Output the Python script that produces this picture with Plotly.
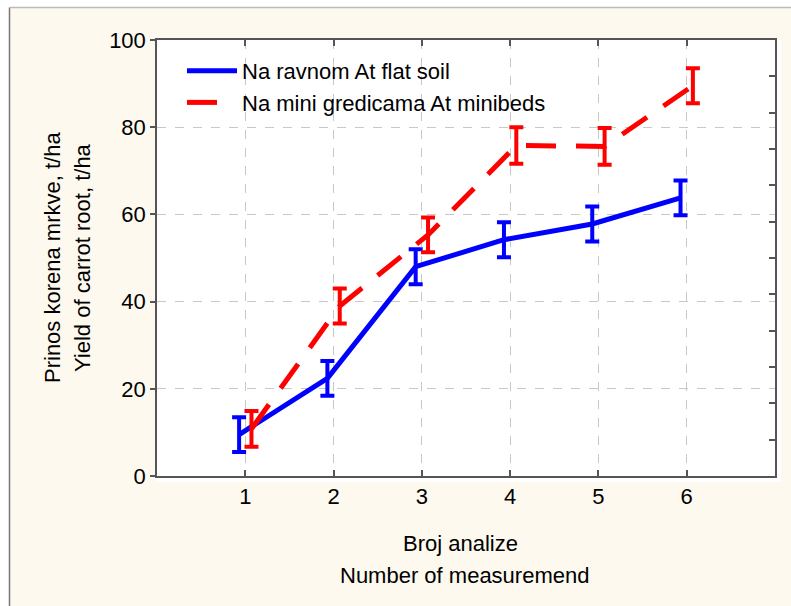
import plotly.graph_objects as go

measurements = [1, 2, 3, 4, 5, 6]
flat_soil = [9.5, 22.4, 48.0, 54.2, 57.8, 63.8]
flat_soil_err = [4.0, 4.0, 4.0, 4.0, 4.0, 4.0]
minibeds = [10.8, 39.0, 55.3, 75.8, 75.6, 89.5]
minibeds_err = [4.1, 4.0, 4.0, 4.2, 4.2, 4.0]
y_ticks = [0, 20, 40, 60, 80, 100]
x_ticks = [1, 2, 3, 4, 5, 6]
name_flat = "Na ravnom At flat soil"
name_mini = "Na mini gredicama At minibeds"

OFF = 0.07
FONT = "Liberation Sans, Arial, sans-serif"
FS = 22
CREAM = "#FDF9EE"

W, H = 791, 606
L, R, T, B = 157, 16, 40, 130
pw, ph = W - L - R, H - T - B


def px_x(p):
    return (p - L) / pw


def px_y(p):
    return (H - B - p) / ph


fig = go.Figure()
fig.add_trace(go.Scatter(
    x=[m - OFF for m in measurements], y=flat_soil, name=name_flat,
    mode="lines", line=dict(color="#0000FF", width=5),
    error_y=dict(type="data", array=flat_soil_err, color="#0000FF", thickness=4, width=7),
    legendgroup="a",
))
fig.add_trace(go.Scatter(
    x=[m + OFF for m in measurements], y=minibeds, name=name_mini,
    mode="lines", line=dict(color="#FF0000", width=5, dash="30px,20px"),
    error_y=dict(type="data", array=minibeds_err, color="#FF0000", thickness=4, width=7),
    legendgroup="b",
))
# invisible trace for right-hand tick axis
fig.add_trace(go.Scatter(x=[0], y=[0], yaxis="y2", mode="markers",
                         marker=dict(opacity=0), showlegend=False, hoverinfo="skip"))

axis_line = "#555555"
fig.update_layout(
    width=W, height=H,
    margin=dict(l=L, r=R, t=T, b=B),
    paper_bgcolor=CREAM, plot_bgcolor="white",
    font=dict(family=FONT, size=FS, color="black"),
    showlegend=True,
    legend=dict(x=px_x(182), y=px_y(50), xanchor="left", yanchor="top",
                bgcolor="rgba(0,0,0,0)", font=dict(size=FS, family=FONT),
                itemwidth=50, tracegroupgap=0, traceorder="grouped"),
    xaxis=dict(range=[0, 7], tickvals=x_ticks, ticks="inside", ticklen=6,
               tickcolor=axis_line, tickwidth=1.5,
               showline=True, linecolor=axis_line, linewidth=1.5, mirror="ticks",
               showgrid=True, gridcolor="#C8C8C8", griddash="dash", gridwidth=1,
               zeroline=False, tickfont=dict(size=FS)),
    yaxis=dict(range=[0, 100], tickvals=y_ticks, ticks="outside", ticklen=5,
               tickcolor=axis_line, tickwidth=1.5,
               showline=True, linecolor=axis_line, linewidth=1.5, mirror=True,
               showgrid=True, gridcolor="#C8C8C8", griddash="dash", gridwidth=1,
               zeroline=False, tickfont=dict(size=FS)),
    yaxis2=dict(range=[0, 12], dtick=1, overlaying="y", side="right", anchor="x",
                ticks="inside", ticklen=6, tickcolor=axis_line, tickwidth=1.5,
                showticklabels=False, showgrid=False, showline=False, zeroline=False),
    shapes=[
        dict(type="rect", xref="paper", yref="paper", layer="below",
             x0=px_x(L), x1=px_x(781), y0=px_y(482), y1=px_y(T),
             fillcolor="white", line=dict(width=0)),
        dict(type="rect", xref="paper", yref="paper", layer="above",
             x0=px_x(-5), x1=px_x(9), y0=px_y(H + 5), y1=px_y(-5),
             fillcolor="white", line=dict(width=0)),
        dict(type="rect", xref="paper", yref="paper", layer="above",
             x0=px_x(-5), x1=px_x(W + 5), y0=px_y(7), y1=px_y(-5),
             fillcolor="white", line=dict(width=0)),
        dict(type="line", xref="paper", yref="paper", layer="above",
             x0=px_x(9.5), x1=px_x(9.5), y0=px_y(H + 5), y1=px_y(7.5),
             line=dict(color="#777777", width=1.5)),
        dict(type="line", xref="paper", yref="paper", layer="above",
             x0=px_x(9.5), x1=px_x(W + 5), y0=px_y(7.5), y1=px_y(7.5),
             line=dict(color="#BBBBBB", width=1.5)),
    ],
    annotations=[
        dict(text="Prinos korena mrkve, t/ha", xref="paper", yref="paper",
             x=px_x(52), y=px_y(258), xanchor="center", yanchor="middle",
             textangle=-90, showarrow=False, font=dict(size=FS)),
        dict(text="Yield of carrot root, t/ha", xref="paper", yref="paper",
             x=px_x(82), y=px_y(258), xanchor="center", yanchor="middle",
             textangle=-90, showarrow=False, font=dict(size=FS)),
        dict(text="Broj analize", xref="paper", yref="paper",
             x=px_x(460), y=px_y(543), xanchor="center", yanchor="middle",
             showarrow=False, font=dict(size=FS)),
        dict(text="Number of measuremend", xref="paper", yref="paper",
             x=px_x(464), y=px_y(575), xanchor="center", yanchor="middle",
             showarrow=False, font=dict(size=FS)),
    ],
)

fig.write_html("out.html", config={"displayModeBar": False},
               post_script="document.body.style.margin='0';")
